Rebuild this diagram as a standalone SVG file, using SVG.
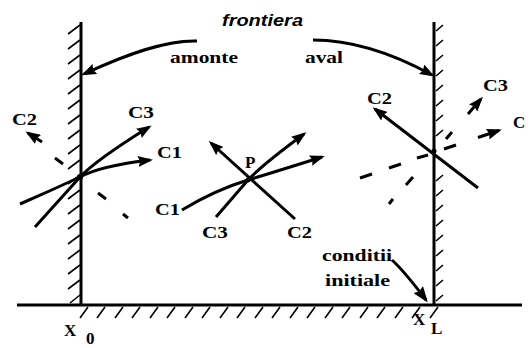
<svg xmlns="http://www.w3.org/2000/svg" width="531" height="348" viewBox="0 0 531 348">
<defs>
<style>
.wall{stroke:#000;stroke-width:3;fill:none}
.hatch{stroke:#000;stroke-width:1.6;fill:none}
.ln{stroke:#000;stroke-width:3;fill:none}
.dash{stroke:#000;stroke-width:3;fill:none}
.lbl{font-family:"Liberation Serif","Times New Roman",serif;font-weight:bold;font-size:17px;fill:#000}
.word{font-family:"Liberation Serif","Times New Roman",serif;font-weight:bold;font-size:17px;fill:#000}
.title{font-family:"Liberation Sans",Arial,sans-serif;font-weight:bold;font-style:italic;font-size:16px;fill:#000}
</style>
<marker id="ah" viewBox="0 0 15 11" refX="12" refY="5.5" markerWidth="15" markerHeight="11" markerUnits="userSpaceOnUse" orient="auto">
<path d="M0,0 L15,5.5 L0,11 L2,5.5 z" fill="#000"/>
</marker>
<marker id="ahb" viewBox="0 0 16 12" refX="13" refY="6" markerWidth="16" markerHeight="12" markerUnits="userSpaceOnUse" orient="auto">
<path d="M0,0 L16,6 L0,12 L2,6 z" fill="#000"/>
</marker>
</defs>
<rect width="531" height="348" fill="#fff"/>

<g id="wall-left">
<line class="wall" x1="81" y1="22" x2="81" y2="306"/>
<path class="hatch" d="M68,34 L80,25 M68,49 L80,40 M68,64 L80,55 M68,79 L80,70 M68,94 L80,85 M68,109 L80,100 M68,124 L80,115 M68,139 L80,130 M68,154 L80,145 M68,169 L80,160 M68,184 L80,175 M68,199 L80,190 M68,214 L80,205 M68,229 L80,220 M68,244 L80,235 M68,259 L80,250 M68,274 L80,265 M68,289 L80,280 M70,303 L80,295"/>
</g>

<g id="wall-right">
<line class="wall" x1="434" y1="22" x2="434" y2="306"/>
<path class="hatch" d="M436,31 L443,25 M436,46 L443,40 M436,61 L443,55 M436,76 L443,70 M436,91 L443,85 M436,106 L443,100 M436,121 L443,115 M436,136 L443,130 M436,181 L443,175 M436,196 L443,190 M436,211 L443,205 M436,226 L443,220 M436,241 L443,235 M436,256 L443,250 M436,271 L443,265 M436,286 L443,280 M436,301 L443,295"/>
</g>

<g id="ground">
<line class="wall" x1="17" y1="305" x2="522" y2="305"/>
<path class="hatch" d="M80,318 L88,307 M97,318 L105,307 M115,318 L123,307 M132,318 L140,307 M150,318 L158,307 M167,318 L175,307 M185,318 L193,307 M202,318 L210,307 M220,318 L228,307 M237,318 L245,307 M255,318 L263,307 M272,318 L280,307 M290,318 L298,307 M307,318 L315,307 M325,318 L333,307 M342,318 L350,307 M360,318 L368,307 M377,318 L385,307 M395,318 L403,307 M412,318 L420,307 M430,318 L438,307"/>
</g>

<g id="connectors">
<path class="ln" d="M197,41 C165,40 125,55 84,74" marker-end="url(#ah)"/>
<path class="ln" d="M313,40 C350,40 392,53 432,75" marker-end="url(#ah)"/>
<path class="ln" d="M392,260 Q405,272 426,300" marker-end="url(#ahb)"/>

<path class="ln" d="M20,204 Q50,191 80,177 Q100,166 150,160" marker-end="url(#ah)"/>
<path class="ln" d="M35,227 L80,177 Q96,160 149,127" marker-end="url(#ah)"/>
<path class="dash" d="M42,142 L28,133" marker-end="url(#ah)"/>
<path class="dash" d="M55,158 L63,164 M98,193 L106,199 M123,214 L128,218"/>

<path class="ln" d="M295,219 L211,143" marker-end="url(#ah)"/>
<path class="ln" d="M216,217 L248,180 Q262,165 304,134" marker-end="url(#ah)"/>
<path class="ln" d="M182,210 Q215,190 248,180 T322,157" marker-end="url(#ah)"/>

<path class="ln" d="M478,188 L375,109" marker-end="url(#ah)"/>
<path class="dash" d="M468,114 L481,99" marker-end="url(#ah)"/>
<path class="dash" d="M446,139 L452,132 M406,185 L413,177 M389,204 L393,199"/>
<path class="dash" d="M478,137.5 L499,130.5" marker-end="url(#ah)"/>
<path class="dash" d="M444,149 L456,145 M417,158 L428,155 M389,168 L401,164 M360,178 L372,174"/>
</g>

<g id="point-left"><circle cx="80" cy="177" r="3" fill="#000"/></g>
<g id="point-P"><circle cx="248" cy="180" r="2.5" fill="#000"/></g>
<g id="point-right"><circle cx="434" cy="151" r="2.5" fill="#000"/></g>

<g id="labels">
<text class="title" x="222" y="26" textLength="81" lengthAdjust="spacingAndGlyphs">frontiera</text>
<text class="word" x="170" y="63" textLength="68" lengthAdjust="spacingAndGlyphs">amonte</text>
<text class="word" x="305" y="63" textLength="38" lengthAdjust="spacingAndGlyphs">aval</text>
<text class="word" x="322" y="261" textLength="70" lengthAdjust="spacingAndGlyphs">conditii</text>
<text class="word" x="325" y="286" textLength="65" lengthAdjust="spacingAndGlyphs">initiale</text>

<text class="lbl" x="12" y="125" textLength="25" lengthAdjust="spacingAndGlyphs">C2</text>
<text class="lbl" x="128" y="118" textLength="26" lengthAdjust="spacingAndGlyphs">C3</text>
<text class="lbl" x="157" y="158" textLength="25" lengthAdjust="spacingAndGlyphs">C1</text>
<text class="lbl" x="245" y="168" font-size="18">P</text>
<text class="lbl" x="155" y="215" textLength="25" lengthAdjust="spacingAndGlyphs">C1</text>
<text class="lbl" x="202" y="238" textLength="26" lengthAdjust="spacingAndGlyphs">C3</text>
<text class="lbl" x="287" y="238" textLength="25" lengthAdjust="spacingAndGlyphs">C2</text>
<text class="lbl" x="367" y="104" textLength="25" lengthAdjust="spacingAndGlyphs">C2</text>
<text class="lbl" x="483" y="91" textLength="25" lengthAdjust="spacingAndGlyphs">C3</text>
<text class="lbl" x="513" y="128">C</text>

<text class="lbl" x="64" y="336">X</text>
<text class="lbl" x="86" y="344" font-size="12">0</text>
<text class="lbl" x="413" y="325">X</text>
<text class="lbl" x="431" y="334" font-size="15">L</text>
</g>
</svg>
